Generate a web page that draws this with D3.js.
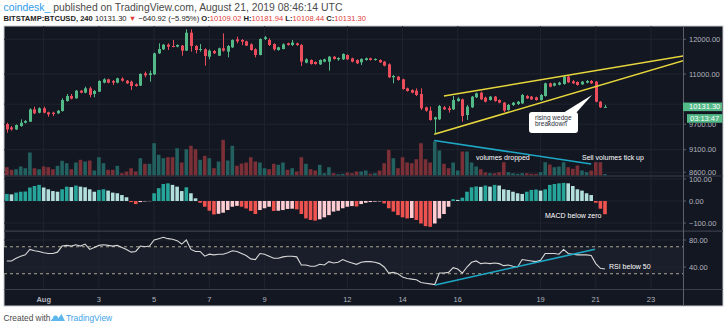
<!DOCTYPE html>
<html><head><meta charset="utf-8">
<script src="https://cdn.jsdelivr.net/npm/d3@7"></script>
<style>body{margin:0;background:#fff;} svg{display:block;font-family:"Liberation Sans",Arial,sans-serif;}</style>
</head><body><svg id="c" width="728" height="329"></svg>
<script>
// ---- DATA (BITSTAMP:BTCUSD, 240 min candles starting 2019-07-30 16:00 UTC) ----
const startTime = Date.UTC(2019, 6, 30, 16);
const stepHours = 4;
const opens = [9704,9623,9575,9655,9736,9761,10068,9984,10094,9992,9984,9967,10026,10280,10410,10350,10550,10498,10612,10463,
10524,10764,10854,10809,10764,10872,10818,10791,10719,10683,11019,10973,10991,11585,11702,11839,11800,11780,11810,11663,
12200,11800,11682,11702,11488,11653,11517,11731,11634,11760,11998,11978,11938,11849,11702,11536,12008,11978,11859,11682,
11711,11879,11829,11879,11829,11317,11393,11336,11270,11346,11346,11488,11412,11412,11536,11441,11393,11327,11393,11441,
11393,11393,11346,11270,10909,10927,10854,10612,10568,10550,10463,10119,10034,9818,9818,10119,10094,10068,10280,10323,
9926,10119,10376,10498,10367,10306,10393,10306,10238,10051,10179,10204,10221,10410,10393,10376,10306,10410,10746,10683,
10710,10728,10927,10800,10782,10719,10764,10809,10791,10263,10109.02];
const highs = [9736,9655,9696,9818,9802,10094,10136,10119,10136,10009,10009,10051,10350,10463,10463,10568,10568,10656,10656,10568,
10827,10882,10872,10836,10900,10909,10836,10818,10746,11019,11065,11093,11604,11879,11859,11879,11978,11849,11829,12304,
12304,11829,11859,11731,11702,11682,11751,12179,11829,11998,12079,12008,11958,11879,11731,12029,12099,12029,11879,11780,
11879,11899,11978,11899,11859,11441,11412,11355,11412,11431,11507,11507,11469,11585,11556,11460,11412,11441,11460,11460,
11441,11412,11365,11298,10973,10945,10872,10630,10586,10612,10612,10136,10136,9884,10179,10153,10153,10410,10376,10341,
10179,10410,10498,10524,10393,10410,10410,10323,10255,10204,10255,10280,10463,10437,10410,10393,10463,10764,10764,10764,
10791,10964,10945,10836,10800,10809,10836,10836,10809,10280,10181.94];
const lows = [9495,9543,9559,9639,9720,9753,9950,9967,9967,9884,9900,9950,10009,10263,10323,10341,10480,10480,10376,10376,
10515,10746,10746,10701,10746,10791,10728,10568,10656,10674,10909,10791,10973,11566,11682,11682,11760,11760,11517,11653,
11634,11585,11634,11232,11412,11566,11507,11634,11469,11741,11879,11829,11800,11663,11469,11527,11978,11800,11663,11663,
11702,11810,11800,11800,11223,11298,11260,11260,11251,11327,11093,11403,11374,11393,11393,11327,11279,11251,11374,11374,
11374,11307,11213,10891,10746,10818,10577,10524,10480,10410,10051,10009,9786,9479,9802,10051,9984,10051,10263,9761,
9802,10102,10358,10306,10246,10289,10263,10221,10001,10034,10153,10179,10204,10332,10306,10289,10289,10393,10638,10665,
10692,10710,10755,10728,10683,10701,10746,10728,10246,10102,10108.44];
const closes = [9575,9575,9680,9736,9777,10068,9967,10094,9984,9942,9950,10034,10306,10410,10341,10550,10498,10612,10437,10542,
10809,10854,10764,10764,10882,10818,10746,10674,10674,11001,10964,11019,11585,11711,11839,11780,11780,11829,11663,12200,
11800,11682,11711,11507,11663,11585,11731,11663,11800,11978,11938,11928,11810,11682,11536,12008,12059,11829,11702,11760,
11849,11829,11899,11829,11346,11412,11279,11279,11393,11412,11488,11422,11450,11566,11412,11346,11298,11422,11441,11393,
11422,11327,11232,10909,10945,10836,10594,10542,10498,10437,10094,10034,9802,9868,10153,10068,10051,10306,10341,9901,
10136,10393,10480,10323,10263,10393,10280,10238,10034,10179,10238,10263,10437,10350,10323,10306,10437,10746,10656,10746,
10764,10927,10773,10746,10701,10791,10809,10746,10263,10119,10131.30];
const volumes = [830,570,630,900,730,2300,730,630,900,830,630,970,1470,1230,630,1300,1570,1400,1500,500,
1830,1230,570,570,970,230,400,730,400,1730,1170,1170,3230,2070,1730,1830,1830,2730,1300,2630,
2970,2630,1570,1970,1730,730,1400,3570,1500,2970,970,1200,1300,1830,1400,1300,730,630,1170,1070,
1300,570,730,400,1830,1170,630,500,1070,230,830,230,130,170,300,230,400,400,500,170,
230,500,1230,2570,1730,730,1830,1300,1230,1630,3230,1630,1300,3400,2500,1170,730,1300,500,2400,
2400,1300,900,630,300,230,230,330,1330,330,230,170,230,230,170,170,330,1330,1100,830,
900,1330,830,670,1000,500,330,500,1330,1330,150];
const macdHist = [32,30,38,42,43,61,68,73,61,53,45,42,53,65,63,70,65,62,53,42,
50,53,47,38,35,27,17,-5,-14,-5,-2,-1,35,58,77,80,73,65,45,62,
35,12,-8,-26,-44,-61,-58,-53,-41,-26,-22,-26,-34,-45,-59,-41,-33,-26,-45,-44,
-41,-36,-35,-38,-59,-79,-86,-89,-83,-74,-64,-48,-44,-33,-26,-23,-25,-14,-8,-5,
-3,-2,-11,-33,-48,-64,-74,-79,-77,-86,-102,-114,-117,-102,-79,-59,-26,8,5,15,
42,62,66,64,70,65,73,70,53,50,42,35,32,42,50,52,47,53,73,77,
80,82,80,68,53,47,35,27,-8,-35,-60];
const rsi = [49,49,53,56,58,66,64,63,61,60,60,62,71,72,71,73,71,74,66,69,
72,73,72,71,72,69,66,62,63,71,70,71,80,82,84,82,81,79,74,80,
66,63,63,56,59,58,59,59,61,64,63,60,57,52,51,60,59,56,53,53,
55,56,56,55,43,43,41,41,44,43,48,46,47,51,48,46,44,47,48,48,
47,45,40,31,32,30,25,23,22,21,17,16,15,14,31,31,32,39,37,31,
40,47,49,45,46,45,46,45,42,43,41,40,51,50,49,48,50,60,60,60,
59,66,60,59,58,58,58,57,45,38,37];
const priceGrid = [12000, 11000, 10200, 9700, 9100, 8600];
const priceTicks = [12000, 11000, 9700, 9100, 8600];
const macdTicks = [100, 0, -100];
const rsiTicks = [80, 40];
const dateTicks = ["2019-08-01","2019-08-03","2019-08-05","2019-08-07","2019-08-09","2019-08-12","2019-08-14","2019-08-16","2019-08-19","2019-08-21","2019-08-23"];
const dateLabels = ["Aug","3","5","7","9","12","14","16","19","21","23"];
const wedgeUpper = [["2019-08-15T12:00Z",10410],["2019-08-24T04:00Z",11508]];
const wedgeLower = [["2019-08-15T03:30Z",9458],["2019-08-24T04:00Z",11373]];
const volumeTrend = [["2019-08-15T03:30Z",3500],["2019-08-20T20:00Z",1150]];
const rsiTrend = [["2019-08-15T04:20Z",13.3],["2019-08-20T23:20Z",66.2]];
const lastPrice = 10131.30;
const countdown = "03:13:47";

// ---- LAYOUT ----
const svg = d3.select("#c");
const L = 4, R = 683, AX = 723, T = 26, B = 306;
const mainB = 175.5, macdT = 176.5, macdB = 231, rsiT = 231.5, rsiB = 289;
const bg = "#131722", grid = "#20242f", sep = "#3b3f4b", axisTxt = "#b2b5be";
const up = "#53b987", down = "#eb4d5c";

const times = opens.map((d, i) => new Date(startTime + i * stepHours * 3600e3));
const x = d3.scaleUtc().domain([new Date(Date.UTC(2019,7,1)), new Date(Date.UTC(2019,7,23))]).range([43.7, 651]);
const y = d3.scaleLog().domain([8530, 12406]).range([mainB, T]);
const yv = d3.scaleLinear().domain([0, 4000]).range([mainB, mainB - 40]);
const ym = d3.scaleLinear().domain([-136, 111]).range([macdB, macdT]);
const yr = d3.scaleLinear().domain([7.4, 92.6]).range([rsiB, rsiT]);

const defs = svg.append("defs");
function clip(id, y0, y1) {
  defs.append("clipPath").attr("id", id).append("rect").attr("x", L).attr("y", y0).attr("width", R - L).attr("height", y1 - y0);
}
clip("cm", T, mainB); clip("cd", macdT, macdB); clip("cr", rsiT, rsiB);
defs.append("clipPath").attr("id", "c97").append("rect").attr("x", R).attr("y", y(lastPrice) + 15.9).attr("width", 40).attr("height", 10);

// background
svg.append("rect").attr("x", L).attr("y", T).attr("width", AX - L).attr("height", B - T)
  .attr("fill", bg).attr("stroke", "#c9cbd1").attr("stroke-width", 1);
// RSI band
svg.append("rect").attr("x", L).attr("width", R - L).attr("y", yr(70)).attr("height", yr(30) - yr(70)).attr("fill", "#1a1e2a");

// vertical grid
svg.append("g").selectAll("line").data(dateTicks).join("line")
  .attr("x1", d => x(new Date(d + "T00:00Z"))).attr("x2", d => x(new Date(d + "T00:00Z")))
  .attr("y1", T).attr("y2", rsiB).attr("stroke", grid).attr("stroke-width", 1);
// horizontal grid
svg.append("g").selectAll("line").data(priceGrid).join("line")
  .attr("x1", L).attr("x2", R).attr("y1", d => y(d)).attr("y2", d => y(d)).attr("stroke", grid);
svg.append("g").selectAll("line").data(macdTicks).join("line")
  .attr("x1", L).attr("x2", R).attr("y1", d => ym(d)).attr("y2", d => ym(d)).attr("stroke", grid);
svg.append("g").selectAll("line").data(rsiTicks).join("line")
  .attr("x1", L).attr("x2", R).attr("y1", d => yr(d)).attr("y2", d => yr(d)).attr("stroke", grid);

// pane separators
[mainB + 0.5, macdB + 0.2, rsiB + 0.5].forEach(v => {
  svg.append("line").attr("x1", L).attr("x2", AX).attr("y1", v).attr("y2", v).attr("stroke", sep).attr("stroke-width", 1.2);
});

const xs = i => x(times[i]);
const idx = d3.range(opens.length);

// volume
svg.append("g").attr("clip-path", "url(#cm)").selectAll("rect").data(idx).join("rect")
  .attr("x", i => xs(i) - 1.8).attr("width", 3.6)
  .attr("y", i => yv(volumes[i])).attr("height", i => yv(0) - yv(volumes[i]))
  .attr("fill", i => closes[i] >= opens[i] ? "#22615f" : "#7a3036");

// candles
const cg = svg.append("g").attr("clip-path", "url(#cm)");
cg.selectAll("line").data(idx).join("line")
  .attr("x1", i => Math.round(xs(i)) + 0.5).attr("x2", i => Math.round(xs(i)) + 0.5)
  .attr("y1", i => y(highs[i])).attr("y2", i => y(lows[i]))
  .attr("stroke", i => closes[i] >= opens[i] ? up : down).attr("stroke-width", 1);
cg.selectAll("rect").data(idx).join("rect")
  .attr("x", i => Math.round(xs(i)) - 1).attr("width", 3)
  .attr("y", i => y(Math.max(opens[i], closes[i])))
  .attr("height", i => Math.max(1, y(Math.min(opens[i], closes[i])) - y(Math.max(opens[i], closes[i]))))
  .attr("fill", i => closes[i] >= opens[i] ? up : down);

// wedge lines
const lineP = (ys) => d3.line().x(d => x(new Date(d[0]))).y(d => ys(d[1]));
[wedgeUpper, wedgeLower].forEach(w => {
  svg.append("path").attr("clip-path", "url(#cm)").attr("d", lineP(y)(w))
    .attr("fill", "none").attr("stroke", "#e8d73c").attr("stroke-width", 1.5);
});
svg.append("path").attr("d", lineP(yv)(volumeTrend)).attr("fill", "none").attr("stroke", "#1ea8c6").attr("stroke-width", 1.6);

// MACD histogram
const macdColor = i => {
  const v = macdHist[i], p = i > 0 ? macdHist[i - 1] : v;
  if (v >= 0) return v >= p ? "#26a69a" : "#b2dfdb";
  return v <= p ? "#ef5350" : "#ffcdd2";
};
svg.append("g").attr("clip-path", "url(#cd)").selectAll("rect").data(idx).join("rect")
  .attr("x", i => xs(i) - 1.8).attr("width", 3.6)
  .attr("y", i => Math.min(ym(0), ym(macdHist[i])))
  .attr("height", i => Math.abs(ym(macdHist[i]) - ym(0)))
  .attr("fill", macdColor);

// RSI
[70, 30].forEach(v => {
  svg.append("line").attr("x1", L).attr("x2", R).attr("y1", yr(v)).attr("y2", yr(v))
    .attr("stroke", "#a9a58c").attr("stroke-dasharray", "3,3").attr("stroke-width", 1);
});
svg.append("path").attr("clip-path", "url(#cr)")
  .attr("d", d3.line().x(i => xs(i)).y(i => yr(rsi[i]))(idx))
  .attr("fill", "none").attr("stroke", "#d7d7d7").attr("stroke-width", 1.1);
svg.append("path").attr("d", lineP(yr)(rsiTrend)).attr("fill", "none").attr("stroke", "#1ea8c6").attr("stroke-width", 1.6);

// annotations
const ann = svg.append("g").attr("fill", "#ffffff").attr("font-size", 7);
ann.append("text").attr("x", 476).attr("y", 159.5).text("volumes dropped");
ann.append("text").attr("x", 582).attr("y", 159.5).text("Sell volumes tick up");
ann.append("text").attr("x", 545).attr("y", 217.5).text("MACD below zero");
ann.append("text").attr("x", 609).attr("y", 268.5).text("RSI below 50");

// callout
svg.append("path").attr("d", "M563,113 L576,113 L592,95 Z").attr("fill", "#fff");
svg.append("rect").attr("x", 529).attr("y", 112).attr("width", 49).attr("height", 21).attr("rx", 3).attr("fill", "#fff");
const co = svg.append("g").attr("fill", "#2a2e39").attr("font-size", 6.5);
co.append("text").attr("x", 535).attr("y", 119.8).text("rising wedge");
co.append("text").attr("x", 535).attr("y", 126.3).text("breakdown");

// right axis
svg.append("line").attr("x1", R + 0.5).attr("x2", R + 0.5).attr("y1", T).attr("y2", B).attr("stroke", "#5d606b");
const fmt = d3.format(".2f");
const axg = svg.append("g").attr("font-size", 7.5).attr("fill", axisTxt);
function axisLabels(ticks, sc) {
  ticks.forEach(t => {
    axg.append("line").attr("x1", R).attr("x2", R + 3).attr("y1", sc(t)).attr("y2", sc(t)).attr("stroke", "#5d606b");
    const tx = axg.append("text").attr("x", 689).attr("y", sc(t)).attr("dy", "0.35em").text(fmt(t).replace("-", "−"));
    if (t === 9700 && sc === y) tx.attr("clip-path", "url(#c97)");
  });
}
axisLabels(priceTicks, y);
axisLabels(macdTicks, ym);
axisLabels(rsiTicks, yr);

// last price labels
svg.append("rect").attr("x", R).attr("y", y(lastPrice) - 4.3).attr("width", 39).attr("height", 8.6).attr("fill", up);
svg.append("text").attr("x", 689).attr("y", y(lastPrice)).attr("dy", "0.35em").attr("font-size", 7.5).attr("fill", "#fff").text(fmt(lastPrice));
svg.append("rect").attr("x", 687).attr("y", y(lastPrice) + 7.3).attr("width", 35.5).attr("height", 8.6).attr("fill", up);
svg.append("text").attr("x", 690).attr("y", y(lastPrice) + 11.6).attr("dy", "0.35em").attr("font-size", 7.5).attr("fill", "#fff").text(countdown);

// x axis labels
svg.append("g").attr("font-size", 7.5).attr("fill", axisTxt).selectAll("text").data(dateTicks).join("text")
  .attr("x", d => x(new Date(d + "T00:00Z"))).attr("y", 301.5).attr("text-anchor", "middle")
  .attr("font-weight", (d, i) => i === 0 ? "bold" : "normal")
  .text((d, i) => dateLabels[i]);

// header
const h1 = svg.append("text").attr("x", 3.5).attr("y", 10.5).attr("font-size", 10.4).attr("fill", "#4a4a4a");
h1.append("tspan").attr("fill", "#2e9be8").text("coindesk_");
h1.append("tspan").text(" published on TradingView.com, August 21, 2019 08:46:14 UTC");
const red = "#df3b3b";
const h2 = svg.append("text").attr("x", 3.5).attr("y", 21).attr("font-size", 7.6).attr("fill", "#222");
h2.append("tspan").attr("font-weight", "bold").text("BITSTAMP:BTCUSD, 240");
h2.append("tspan").text("  10131.30 ");
h2.append("tspan").attr("fill", red).text("▼");
h2.append("tspan").text(" −640.92 (−5.95%) ");
[["O:", "10109.02"], ["H:", "10181.94"], ["L:", "10108.44"], ["C:", "10131.30"]].forEach((p, k) => {
  h2.append("tspan").attr("font-weight", "bold").text((k ? " " : "") + p[0]);
  h2.append("tspan").attr("fill", red).text(p[1]);
});

// footer
svg.append("text").attr("x", 3.5).attr("y", 321).attr("font-size", 8.4).attr("fill", "#4a4a4a").text("Created with");
svg.append("path").attr("d", "M50.5,321 L55,315.5 L58,318.5 L61.5,314 L65,321 Z").attr("fill", "#5fb8ec");
svg.append("circle").attr("cx", 55.5).attr("cy", 318).attr("r", 2.5).attr("fill", "#5fb8ec");
svg.append("text").attr("x", 66).attr("y", 321).attr("font-size", 8.4).attr("fill", "#3ca3e8").text("TradingView");
</script></body></html>
